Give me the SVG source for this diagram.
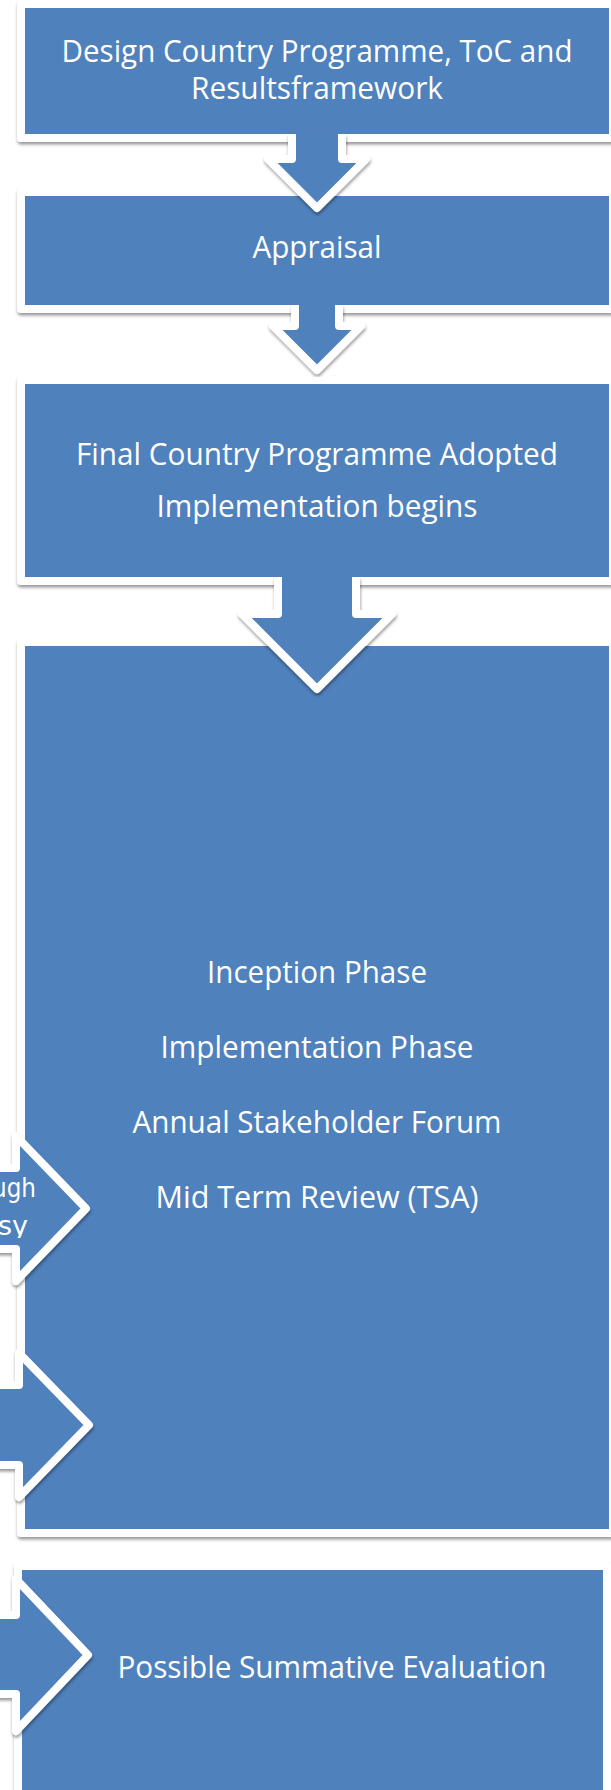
<svg xmlns="http://www.w3.org/2000/svg" width="611" height="1790" viewBox="0 0 611 1790">
  <defs>
    <filter id="sh" x="-10%" y="-10%" width="120%" height="120%">
      <feDropShadow dx="0.5" dy="2.5" stdDeviation="1.8" flood-color="#000" flood-opacity="0.4"/>
    </filter>
    <clipPath id="clipL1">
      <rect x="-20" y="1172" width="120" height="66"/>
    </clipPath>
    <style>
      .box { fill: #4F81BD; stroke: #FFFFFF; stroke-width: 8; stroke-linejoin: round; }
      .afill { fill: #4F81BD; stroke: none; }
      .aline { fill: none; stroke: #FFFFFF; stroke-width: 8; stroke-linejoin: round; }
      .arr { fill: #4F81BD; stroke: #FFFFFF; stroke-width: 8; stroke-linejoin: round; }
      .t { font-family: "Open Sans", "Noto Sans", "DejaVu Sans", sans-serif; font-size: 31px; fill: #FFFFFF; text-anchor: middle; }
      .ts { font-family: "DejaVu Sans", "Noto Sans", sans-serif; font-size: 27px; fill: #FFFFFF; text-anchor: end; }
    </style>
  </defs>
  <rect x="0" y="0" width="611" height="1790" fill="#FFFFFF"/>

  <g id="node-design">
    <rect class="box" x="21" y="4" width="592" height="134" filter="url(#sh)"/>
    <text class="t" x="317" y="62" textLength="511" lengthAdjust="spacingAndGlyphs">Design Country Programme, ToC and</text>
    <text class="t" x="317" y="99" textLength="252" lengthAdjust="spacingAndGlyphs">Resultsframework</text>
  </g>

  <g id="node-appraisal">
    <rect class="box" x="21" y="192" width="592" height="117" filter="url(#sh)"/>
    <text class="t" x="317" y="258" textLength="129" lengthAdjust="spacingAndGlyphs">Appraisal</text>
  </g>

  <g id="node-final">
    <rect class="box" x="21" y="380" width="592" height="201" filter="url(#sh)"/>
    <text class="t" x="317" y="465" textLength="482" lengthAdjust="spacingAndGlyphs">Final Country Programme Adopted</text>
    <text class="t" x="317" y="517" textLength="321" lengthAdjust="spacingAndGlyphs">Implementation begins</text>
  </g>

  <g id="node-implementation">
    <rect class="box" x="21" y="642" width="592" height="891" filter="url(#sh)"/>
    <text class="t" x="317" y="983" textLength="220" lengthAdjust="spacingAndGlyphs">Inception Phase</text>
    <text class="t" x="317" y="1058" textLength="313" lengthAdjust="spacingAndGlyphs">Implementation Phase</text>
    <text class="t" x="317" y="1133" textLength="369" lengthAdjust="spacingAndGlyphs">Annual Stakeholder Forum</text>
    <text class="t" x="317" y="1208" textLength="323" lengthAdjust="spacingAndGlyphs">Mid Term Review (TSA)</text>
  </g>

  <g id="node-summative">
    <rect class="box" x="18" y="1566" width="589" height="260" filter="url(#sh)"/>
    <text class="t" x="332" y="1678" textLength="429" lengthAdjust="spacingAndGlyphs">Possible Summative Evaluation</text>
  </g>

  <g id="connectors">
    <g id="arrow-design-appraisal" filter="url(#sh)">
      <path class="afill" d="M292 133.5 L292 159 L268 159 L317 208 L366 159 L342 159 L342 133.5 Z"/>
      <path class="aline" d="M292 134 L292 159 L268 159 L317 208 L366 159 L342 159 L342 134"/>
    </g>
    <g id="arrow-appraisal-final" filter="url(#sh)">
      <path class="afill" d="M295 304.5 L295 326 L273 326 L317 370 L361 326 L339 326 L339 304.5 Z"/>
      <path class="aline" d="M295 305 L295 326 L273 326 L317 370 L361 326 L339 326 L339 305"/>
    </g>
    <g id="arrow-final-implementation" filter="url(#sh)">
      <path class="afill" d="M278 576.5 L278 614 L242 614 L317 689 L392 614 L356 614 L356 576.5 Z"/>
      <path class="aline" d="M278 577 L278 614 L242 614 L317 689 L392 614 L356 614 L356 577"/>
    </g>
    <g id="arrow-left-1">
      <path class="arr" filter="url(#sh)" d="M-20 1168 L16 1168 L16 1136 L86 1208.5 L16 1281 L16 1249 L-20 1249 Z"/>
      <g clip-path="url(#clipL1)">
        <text class="ts" x="36" y="1197" textLength="44" lengthAdjust="spacingAndGlyphs">ugh</text>
        <text class="ts" x="28" y="1235" textLength="30" lengthAdjust="spacingAndGlyphs">sy</text>
      </g>
    </g>
    <g id="arrow-left-2">
      <path class="arr" filter="url(#sh)" d="M-20 1385 L19 1385 L19 1353 L89 1425 L19 1497 L19 1465 L-20 1465 Z"/>
    </g>
    <g id="arrow-left-3">
      <path class="arr" filter="url(#sh)" d="M-20 1615 L16 1615 L16 1579 L88 1655 L16 1731 L16 1694 L-20 1694 Z"/>
    </g>
  </g>
</svg>
